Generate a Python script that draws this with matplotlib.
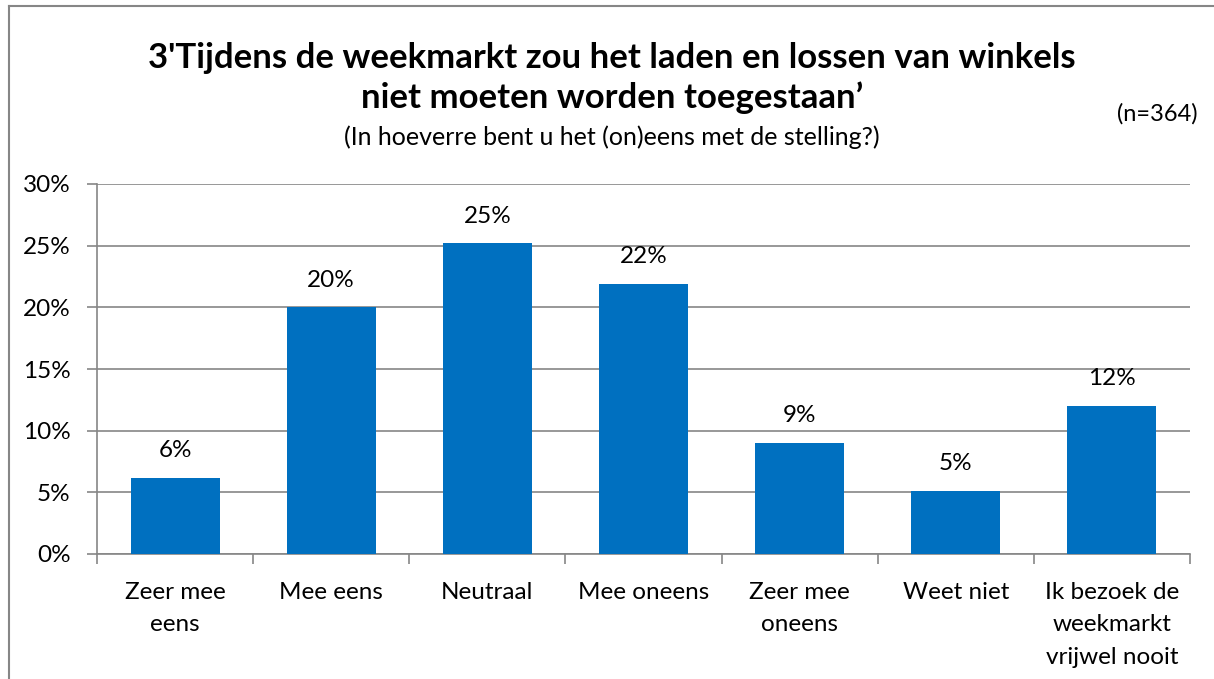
import matplotlib
matplotlib.use("Agg")
import matplotlib.pyplot as plt
from matplotlib.lines import Line2D
from matplotlib.ticker import FuncFormatter, MultipleLocator

categories = ["Zeer mee\neens", "Mee eens", "Neutraal", "Mee oneens",
              "Zeer mee\noneens", "Weet niet", "Ik bezoek de\nweekmarkt\nvrijwel nooit"]
values = [6.2, 20.0, 25.2, 21.9, 9.0, 5.1, 12.0]
labels = ["6%", "20%", "25%", "22%", "9%", "5%", "12%"]

title = "3'Tijdens de weekmarkt zou het laden en lossen van winkels\nniet moeten worden toegestaan\u2019"
subtitle = "(In hoeverre bent u het (on)eens met de stelling?)"
note = "(n=364)"

plt.rcParams['font.family'] = ['Lato', 'DejaVu Sans']

W, H = 1214, 679
fig = plt.figure(figsize=(W / 100, H / 100), dpi=100)
ax = fig.add_axes([97 / W, 1 - 554 / H, (1190 - 97) / W, (554 - 184) / H])

FS = 17.5
grid_c = "#868686"
x = range(len(categories))
ax.bar(x, values, width=0.57, color="#0070C0", zorder=3)
ax.set_xlim(-0.5, len(categories) - 0.5)
ax.set_ylim(0, 30)
ax.yaxis.set_major_locator(MultipleLocator(5))
ax.yaxis.set_major_formatter(FuncFormatter(lambda v, p: f"{v:.0f}%"))
ax.grid(axis="y", color=grid_c, linewidth=1.2, zorder=0)

for s in ["top", "right"]:
    ax.spines[s].set_visible(False)
for s in ["left", "bottom"]:
    ax.spines[s].set_color(grid_c)
    ax.spines[s].set_linewidth(1.2)

ax.set_xticks([i - 0.5 for i in range(len(categories) + 1)])
ax.set_xticklabels([])
ax.set_xticks(list(x), minor=True)
ax.set_xticklabels(categories, minor=True, fontsize=FS, linespacing=1.68, va="top")
ax.tick_params(axis="x", which="major", length=7, color=grid_c, width=1.2)
ax.tick_params(axis="x", which="minor", length=0, pad=20)
ax.tick_params(axis="y", length=7, color=grid_c, width=1.2, labelsize=FS, pad=12)

for i, (v, lab) in enumerate(zip(values, labels)):
    ax.annotate(lab, (i, v), xytext=(0, 12), textcoords="offset points",
                ha="center", va="bottom", fontsize=FS)

fig.text(612 / W, 1 - 78 / H, title, ha="center", va="center", fontsize=25,
         fontweight="bold", linespacing=1.3)
fig.text(612 / W, 1 - 137 / H, subtitle, ha="center", va="center", fontsize=18)
fig.text(1198 / W, 1 - 114 / H, note, ha="right", va="center", fontsize=17)

fig.add_artist(Line2D([9 / W, 9 / W], [0, 1 - 6 / H], transform=fig.transFigure,
                      color="#868686", linewidth=1.5))
fig.add_artist(Line2D([9 / W, 1], [1 - 6 / H, 1 - 6 / H], transform=fig.transFigure,
                      color="#868686", linewidth=1.5))

fig.savefig("out.png", dpi=100, facecolor="white")
